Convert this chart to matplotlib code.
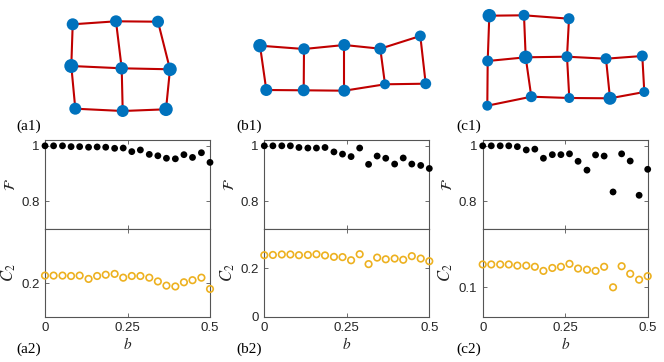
import numpy as np
import matplotlib.pyplot as plt

# node layouts of the three lattices (pixel-like coordinates, y down)
a1_x = [72.7, 116.0, 158.0, 71.3, 121.7, 170.0, 75.3, 122.7, 166.0]
a1_y = [24.3, 21.3, 21.7, 66.0, 68.3, 69.3, 108.7, 111.0, 109.3]
a1_d = [12, 12, 12, 14, 12.5, 13.5, 12, 12, 13.5]
a1_edges = [(0, 1), (1, 2), (3, 4), (4, 5), (6, 7), (7, 8),
            (0, 3), (3, 6), (1, 4), (4, 7), (2, 5), (5, 8)]

b1_x = [40.0, 84.0, 124.3, 160.3, 200.3, 46.3, 83.7, 124.3, 165.0, 205.7]
b1_y = [45.7, 49.0, 45.0, 48.7, 36.0, 90.0, 90.3, 90.7, 84.3, 83.7]
b1_d = [13.5, 11.5, 12, 12, 11, 12, 12, 12, 10, 11]
b1_edges = [(0, 1), (1, 2), (2, 3), (3, 4), (5, 6), (6, 7), (7, 8), (8, 9),
            (0, 5), (1, 6), (2, 7), (3, 8), (4, 9)]

c1_x = [49.3, 84.0, 129.0, 47.7, 85.7, 127.0, 166.0, 202.3,
        47.3, 91.3, 129.3, 170.0, 204.3]
c1_y = [15.7, 15.3, 18.7, 61.0, 57.3, 56.7, 58.7, 56.0,
        105.7, 96.7, 98.0, 98.3, 92.0]
c1_d = [13.5, 11, 11, 11, 13.5, 11, 11, 11, 10, 11, 10, 13, 10]
c1_edges = [(0, 1), (1, 2), (0, 3), (1, 4), (2, 5),
            (3, 4), (4, 5), (5, 6), (6, 7),
            (8, 9), (9, 10), (10, 11), (11, 12),
            (3, 8), (4, 9), (5, 10), (6, 11), (7, 12)]

# measured curves
b = [0, 0.026, 0.053, 0.079, 0.105, 0.132, 0.158, 0.184, 0.211, 0.237,
     0.263, 0.289, 0.316, 0.342, 0.368, 0.395, 0.421, 0.447, 0.474, 0.5]

F_a = [1.0, 1.0, 1.0, 0.997, 0.997, 0.995, 0.996, 0.995, 0.991, 0.992,
       0.979, 0.985, 0.969, 0.964, 0.955, 0.953, 0.968, 0.958, 0.975, 0.940]
F_b = [1.0, 1.0, 1.0, 1.0, 0.994, 0.992, 0.992, 0.994, 0.978, 0.970,
       0.961, 0.992, 0.933, 0.963, 0.955, 0.934, 0.956, 0.934, 0.929, 0.918]
F_c = [1.0, 1.0, 1.0, 1.0, 0.997, 0.985, 0.988, 0.955, 0.968, 0.968,
       0.971, 0.944, 0.912, 0.967, 0.963, 0.833, 0.971, 0.945, 0.821, 0.915]

C_a = [0.218, 0.218, 0.218, 0.217, 0.218, 0.210, 0.217, 0.220, 0.222, 0.213,
       0.217, 0.217, 0.213, 0.204, 0.194, 0.192, 0.202, 0.207, 0.213, 0.186]
C_b = [0.255, 0.256, 0.258, 0.258, 0.255, 0.256, 0.259, 0.254, 0.248, 0.247,
       0.234, 0.259, 0.218, 0.245, 0.238, 0.241, 0.236, 0.251, 0.241, 0.230]
C_c = [0.139, 0.139, 0.139, 0.139, 0.137, 0.137, 0.135, 0.128, 0.133, 0.135,
       0.140, 0.132, 0.130, 0.128, 0.135, 0.100, 0.136, 0.123, 0.113, 0.119]

C_lims = [(0.12, 0.33), (0, 0.365), (0.05, 0.2)]
C_ticks = [[0.2], [0, 0.2], [0.1]]
C_ticklabels = [['0.2'], ['0', '0.2'], ['0.1']]

nets = [(a1_x, a1_y, a1_d, a1_edges),
        (b1_x, b1_y, b1_d, b1_edges),
        (c1_x, c1_y, c1_d, c1_edges)]
tags = ['a', 'b', 'c']

W, H = 664, 362
plt.rcParams['mathtext.fontset'] = 'stix'
fig = plt.figure(figsize=(W / 100, H / 100), dpi=100)

node_col = '#0072BD'
edge_col = '#C00000'
frame_col = '#555555'
text_col = '#262626'

panel_x0 = [0, 220, 440]
axes_left = [45, 264.3, 482.7]
axes_w = 165
top_px, mid_px, bot_px = 140.3, 228.7, 316.6

for k in range(3):
    # network drawing
    xs, ys, ds, edges = nets[k]
    axn = fig.add_axes([panel_x0[k] / W, 1 - 135 / H, 220 / W, 135 / H])
    axn.set_xlim(0, 220)
    axn.set_ylim(135, 0)
    axn.axis('off')
    for i, j in edges:
        axn.plot([xs[i], xs[j]], [ys[i], ys[j]], color=edge_col, lw=1.5,
                 solid_capstyle='round', zorder=1)
    axn.scatter(xs, ys, s=[(d * 0.72) ** 2 for d in ds], color=node_col,
                edgecolors='none', zorder=2)
    fig.text((panel_x0[k] + 16.7) / W, 1 - 126 / H, '(%s1)' % tags[k],
             family='Liberation Serif', fontsize=11, ha='left', va='center')
    fig.text((panel_x0[k] + 16.7) / W, 1 - 349 / H, '(%s2)' % tags[k],
             family='Liberation Serif', fontsize=11, ha='left', va='center')

    # fidelity (top) and C2 (bottom)
    axF = fig.add_axes([axes_left[k] / W, 1 - mid_px / H, axes_w / W,
                        (mid_px - top_px) / H])
    axC = fig.add_axes([axes_left[k] / W, 1 - bot_px / H, axes_w / W,
                        (bot_px - mid_px) / H])
    F = [F_a, F_b, F_c][k]
    C = [C_a, C_b, C_c][k]
    axF.scatter(b, F, s=24, color='black', edgecolors='none', clip_on=False,
                zorder=3)
    axC.scatter(b, C, s=22, facecolors='none', edgecolors='#EDB120',
                linewidths=1.2, clip_on=False, zorder=3)

    axF.set_ylim(0.7, 1.02)
    axF.set_yticks([0.8, 1])
    axF.set_yticklabels(['0.8', '1'])
    axC.set_ylim(*C_lims[k])
    axC.set_yticks(C_ticks[k])
    axC.set_yticklabels(C_ticklabels[k])
    for ax in (axF, axC):
        ax.set_xlim(0, 0.5)
        ax.set_xticks([0, 0.25, 0.5])
        ax.tick_params(direction='in', length=3, width=0.6, color=frame_col,
                       top=True, right=True, labelsize=9.5,
                       labelcolor=text_col, pad=4)
        for sp in ax.spines.values():
            sp.set_color(frame_col)
            sp.set_linewidth(0.8)
        for lab in ax.get_xticklabels() + ax.get_yticklabels():
            lab.set_family('Liberation Sans')
        ax.yaxis.set_label_coords(-0.165, 0.5)
    axF.set_xticklabels([])
    axC.set_xticklabels(['0', '0.25', '0.5'])
    axF.set_ylabel(r'$\mathcal{F}$', fontsize=11, color=text_col)
    axC.set_ylabel(r'$C_2$', fontsize=12, color=text_col)
    axC.set_xlabel(r'$b$', fontsize=11, color=text_col, labelpad=1)

fig.savefig('out.png', dpi=100)
